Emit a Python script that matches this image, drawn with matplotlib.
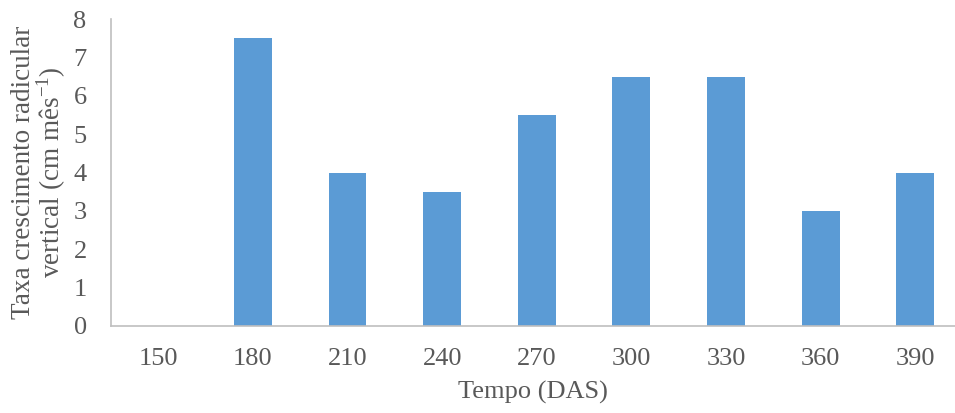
import matplotlib.pyplot as plt

dias = ['150', '180', '210', '240', '270', '300', '330', '360', '390']
taxa = [0, 7.5, 4, 3.5, 5.5, 6.5, 6.5, 3, 4]

plt.rcParams['font.family'] = ['Liberation Serif', 'DejaVu Serif']
cinza = '#595959'

fig = plt.figure(figsize=(9.55, 4.13), dpi=100)
ax = fig.add_axes([111 / 955, 1 - 326 / 413, 1 - 111 / 955, (326 - 19) / 413])

x = range(len(dias))
ax.bar(x, taxa, width=0.4, color='#5B9BD5')

ax.set_xlim(-0.5, 8.42)
ax.set_ylim(0, 8)
ax.set_yticks(range(0, 9))
ax.set_xticks(list(x))
ax.set_xticklabels(dias)

for s in ['top', 'right']:
    ax.spines[s].set_visible(False)
for s in ['left', 'bottom']:
    ax.spines[s].set_color('#BFBFBF')
    ax.spines[s].set_linewidth(1.2)

ax.tick_params(axis='both', length=0, labelsize=19, colors=cinza)
ax.tick_params(axis='x', pad=16)
ax.tick_params(axis='y', pad=17.5)

ax.set_xlabel('Tempo (DAS)', fontsize=19, color=cinza, labelpad=8)
ax.set_ylabel('Taxa crescimento radicular\nvertical (cm mês$^{\\mathregular{-1}}$)',
              fontsize=19.5, color=cinza, linespacing=0.95, labelpad=4)

fig.savefig('out.png', dpi=100)
